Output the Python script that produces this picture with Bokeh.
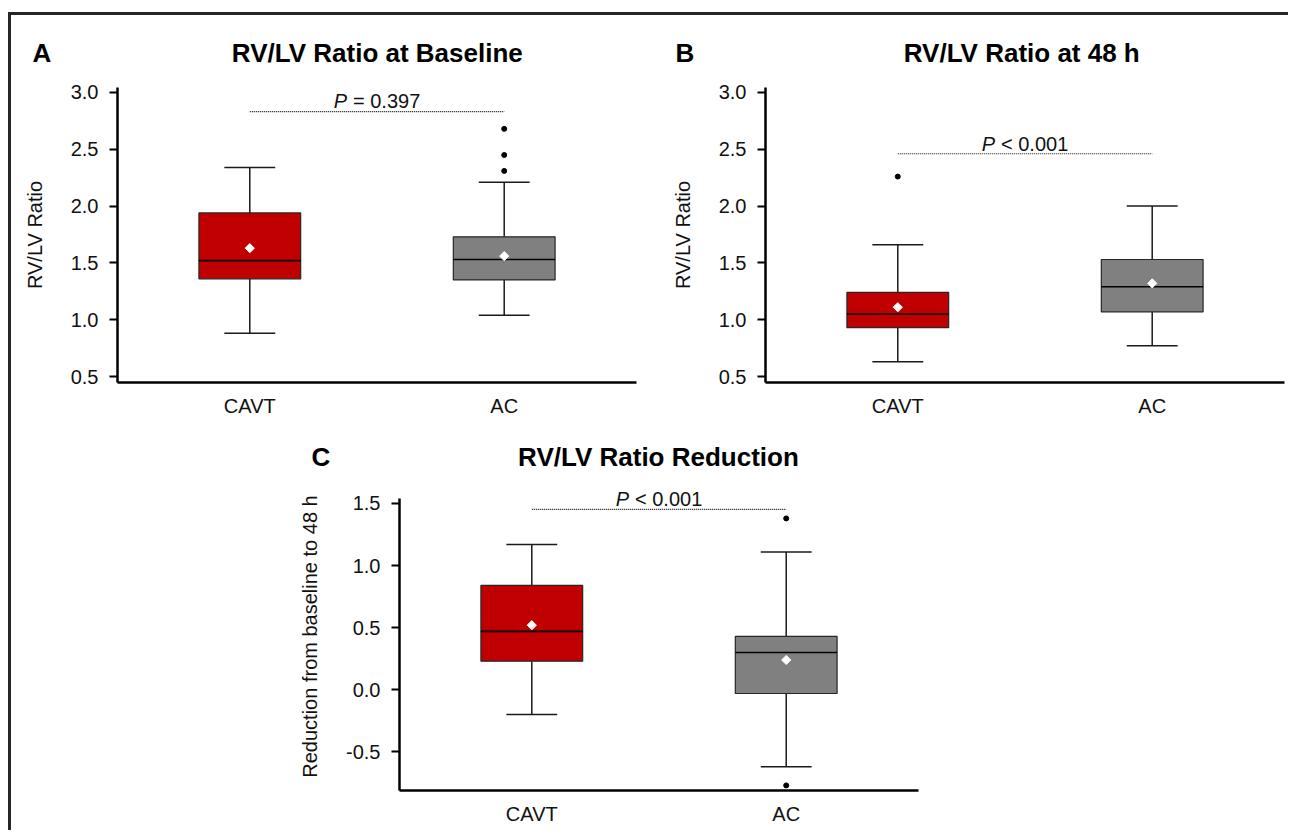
import math
from bokeh.plotting import figure
from bokeh.models import Range1d, FixedTicker, Label, Spacer, NumeralTickFormatter
from bokeh.layouts import row, column
from bokeh.embed import file_html
from bokeh.resources import INLINE

FONT = "Liberation Sans"
NBSP = "\u00a0"

groups = ["CAVT", "AC"]
group_colors = ["#c00000", "#808080"]

# Panel A: RV/LV ratio at baseline
a_low = [0.88, 1.04]
a_q1 = [1.36, 1.35]
a_med = [1.52, 1.53]
a_q3 = [1.94, 1.73]
a_high = [2.34, 2.21]
a_mean = [1.63, 1.56]
a_out_group = ["AC", "AC", "AC"]
a_out_val = [2.31, 2.45, 2.68]
a_ticks = [0.5, 1.0, 1.5, 2.0, 2.5, 3.0]
a_p = "= 0.397"

# Panel B: RV/LV ratio at 48 h
b_low = [0.63, 0.77]
b_q1 = [0.93, 1.07]
b_med = [1.05, 1.29]
b_q3 = [1.24, 1.53]
b_high = [1.66, 2.00]
b_mean = [1.11, 1.32]
b_out_group = ["CAVT"]
b_out_val = [2.26]
b_ticks = [0.5, 1.0, 1.5, 2.0, 2.5, 3.0]
b_p = "< 0.001"

# Panel C: reduction from baseline to 48 h
c_low = [-0.20, -0.62]
c_q1 = [0.23, -0.03]
c_med = [0.47, 0.30]
c_q3 = [0.84, 0.43]
c_high = [1.17, 1.11]
c_mean = [0.52, 0.24]
c_out_group = ["AC", "AC"]
c_out_val = [1.38, -0.77]
c_ticks = [-0.5, 0.0, 0.5, 1.0, 1.5]
c_p = "< 0.001"

BOX_W = 0.40
CAP_W = 0.20


def panel(title, letter, gap, ylabel, low, q1, med, q3, high, mean, out_g,
          out_v, ticks, ptext, p_line_y, p_text_y, yr, ybounds, width, height,
          borders, title_standoff, title_offset):
    left, right, top, bottom = borders
    xs = [i + 1 for i in range(len(groups))]
    p = figure(width=width, height=height, output_backend="svg",
               toolbar_location=None, x_range=Range1d(0.48, 2.52),
               y_range=Range1d(*yr), min_border_left=left,
               min_border_right=right, min_border_top=top,
               min_border_bottom=bottom,
               title=letter + NBSP * gap + title)
    p.title.text_font = FONT
    p.title.text_font_size = "26px"
    p.title.text_font_style = "bold"
    p.title.text_color = "black"
    p.title.align = "left"
    p.title.offset = title_offset
    p.title.standoff = title_standoff
    p.outline_line_color = None
    p.xgrid.visible = False
    p.ygrid.visible = False

    # whiskers
    p.segment(x0=xs, y0=q3, x1=xs, y1=high, line_color="#1a1a1a", line_width=1.5)
    p.segment(x0=xs, y0=q1, x1=xs, y1=low, line_color="#1a1a1a", line_width=1.5)
    p.segment(x0=[x - CAP_W / 2 for x in xs], y0=high,
              x1=[x + CAP_W / 2 for x in xs], y1=high,
              line_color="#1a1a1a", line_width=1.5)
    p.segment(x0=[x - CAP_W / 2 for x in xs], y0=low,
              x1=[x + CAP_W / 2 for x in xs], y1=low,
              line_color="#1a1a1a", line_width=1.5)
    # boxes
    p.vbar(x=xs, bottom=q1, top=q3, width=BOX_W, fill_color=group_colors,
           line_color="#262626", line_width=1.2)
    # medians
    p.segment(x0=[x - BOX_W / 2 for x in xs], y0=med,
              x1=[x + BOX_W / 2 for x in xs], y1=med,
              line_color="black", line_width=1.6)
    # means
    p.scatter(x=xs, y=mean, marker="square", angle=math.pi / 4, size=6.5,
              fill_color="white", line_color="white")
    # outliers
    ox = [groups.index(g) + 1 for g in out_g]
    p.scatter(x=ox, y=out_v, marker="circle", size=5, fill_color="black",
              line_color="black")
    # significance line and label
    p.segment(x0=[xs[0]], y0=[p_line_y], x1=[xs[1]], y1=[p_line_y],
              line_color="#111111", line_width=1.2, line_dash="1 1")
    mid = (xs[0] + xs[1]) / 2
    p.add_layout(Label(x=mid, y=p_text_y, text="P", text_font=FONT,
                       text_font_size="20px", text_font_style="italic",
                       text_align="right", text_baseline="alphabetic",
                       x_offset=-30, text_color="#111111"))
    p.add_layout(Label(x=mid, y=p_text_y, text=ptext, text_font=FONT,
                       text_font_size="20px", text_align="left",
                       text_baseline="alphabetic", x_offset=-24,
                       text_color="#111111"))

    # axes
    p.xaxis.ticker = FixedTicker(ticks=xs)
    p.xaxis.major_label_overrides = {x: g for x, g in zip(xs, groups)}
    p.xaxis.major_tick_out = 0
    p.xaxis.major_tick_in = 0
    p.xaxis.minor_tick_line_color = None
    p.xaxis.axis_line_width = 2.5
    p.xaxis.axis_line_color = "black"
    p.xaxis.major_label_text_font = FONT
    p.xaxis.major_label_text_font_size = "20px"
    p.xaxis.major_label_text_color = "#111111"
    p.xaxis.major_label_standoff = 12

    p.yaxis.ticker = FixedTicker(ticks=ticks)
    p.yaxis.formatter = NumeralTickFormatter(format="0.0")
    if ybounds is not None:
        p.yaxis.bounds = ybounds
    p.yaxis.major_tick_out = 8
    p.yaxis.major_tick_in = 0
    p.yaxis.major_tick_line_width = 2
    p.yaxis.major_tick_line_color = "black"
    p.yaxis.minor_tick_line_color = None
    p.yaxis.axis_line_width = 2.5
    p.yaxis.axis_line_color = "black"
    p.yaxis.major_label_text_font = FONT
    p.yaxis.major_label_text_font_size = "20px"
    p.yaxis.major_label_text_color = "#111111"
    p.yaxis.major_label_standoff = 11
    p.yaxis.axis_label = ylabel
    p.yaxis.axis_label_text_font = FONT
    p.yaxis.axis_label_text_font_size = "20px"
    p.yaxis.axis_label_text_font_style = "normal"
    p.yaxis.axis_label_text_color = "#111111"
    p.yaxis.axis_label_standoff = 22
    return p


pA = panel("RV/LV Ratio at Baseline", "A", 25, "RV/LV Ratio",
           a_low, a_q1, a_med, a_q3, a_high, a_mean, a_out_group, a_out_val,
           a_ticks, a_p, 2.831, 2.921, (0.4475, 3.044), None, 637, 413,
           (106, 12, 70, 46), 40, -85)
pB = panel("RV/LV Ratio at 48 h", "B", 29, "RV/LV Ratio",
           b_low, b_q1, b_med, b_q3, b_high, b_mean, b_out_group, b_out_val,
           b_ticks, b_p, 2.461, 2.548, (0.4475, 3.044), None, 640, 413,
           (117, 4, 70, 46), 40, -90)
pC = panel("RV/LV Ratio Reduction", "C", 26, "Reduction from baseline to 48 h",
           c_low, c_q1, c_med, c_q3, c_high, c_mean, c_out_group, c_out_val,
           c_ticks, c_p, 1.452, 1.534, (-0.811, 1.669), (-0.811, 1.542),
           640, 402, (109, 12, 49, 40), 22, -88)

layout = column(
    row(pA, pB),
    row(Spacer(width=279, height=402), pC),
    styles={"border-top": "3px solid #262626",
            "border-left": "3px solid #262626",
            "margin-top": "12px",
            "margin-left": "8px"},
)

open("out.html", "w").write(file_html(layout, INLINE))
